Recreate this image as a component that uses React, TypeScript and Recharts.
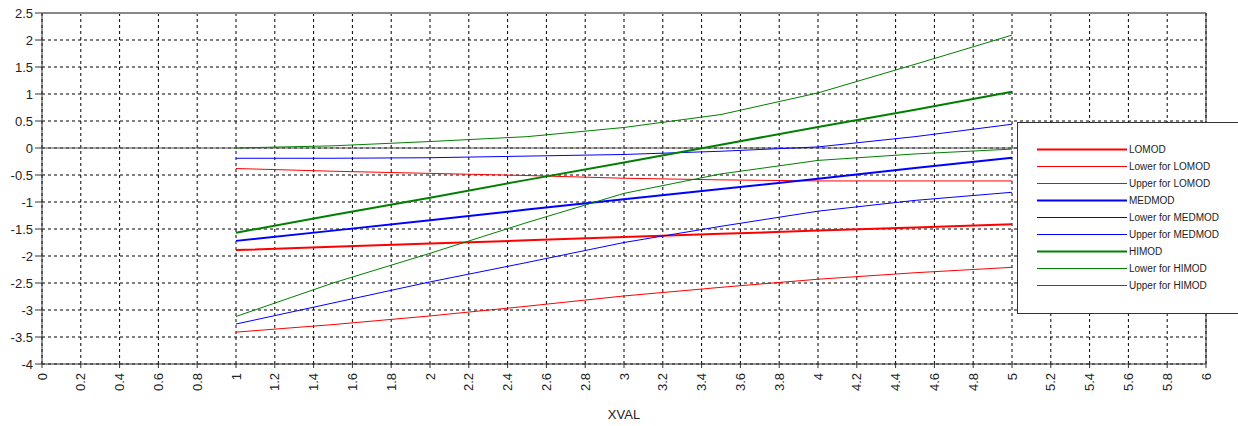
import React from 'react';
import { LineChart, Line, XAxis, YAxis, CartesianGrid, ReferenceLine, Legend } from 'recharts';

const FONT = '"Liberation Sans", Arial, sans-serif';

const xValues = [1, 1.5, 2, 2.5, 3, 3.5, 4, 4.5, 5];

const loMod = [-1.89, -1.83, -1.77, -1.71, -1.65, -1.59, -1.53, -1.47, -1.41];
const loLower = [-3.41, -3.27, -3.11, -2.93, -2.74, -2.58, -2.43, -2.31, -2.21];
const loUpper = [-0.38, -0.43, -0.47, -0.51, -0.56, -0.59, -0.61, -0.61, -0.61];

const medMod = [-1.72, -1.53, -1.34, -1.14, -0.95, -0.76, -0.57, -0.37, -0.18];
const medLower = [-3.26, -2.87, -2.48, -2.12, -1.75, -1.45, -1.17, -0.97, -0.82];
const medUpper = [-0.19, -0.19, -0.18, -0.15, -0.12, -0.06, 0.02, 0.21, 0.44];

const hiMod = [-1.57, -1.24, -0.92, -0.59, -0.27, 0.06, 0.39, 0.71, 1.04];
const hiLower = [-3.12, -2.5, -1.95, -1.38, -0.84, -0.48, -0.23, -0.11, -0.02];
const hiUpper = [0.0, 0.04, 0.12, 0.21, 0.38, 0.62, 1.02, 1.55, 2.09];

const xTicks = [0, 0.2, 0.4, 0.6, 0.8, 1, 1.2, 1.4, 1.6, 1.8, 2, 2.2, 2.4, 2.6, 2.8, 3, 3.2, 3.4, 3.6, 3.8, 4, 4.2, 4.4, 4.6, 4.8, 5, 5.2, 5.4, 5.6, 5.8, 6];
const yTicks = [-4, -3.5, -3, -2.5, -2, -1.5, -1, -0.5, 0, 0.5, 1, 1.5, 2, 2.5];

const series = [
  { key: 'LOMOD', values: loMod, color: '#ff0000', width: 2 },
  { key: 'Lower for LOMOD', values: loLower, color: '#ff0000', width: 1 },
  { key: 'Upper for LOMOD', values: loUpper, color: '#ff0000', width: 1 },
  { key: 'MEDMOD', values: medMod, color: '#0000ff', width: 2 },
  { key: 'Lower for MEDMOD', values: medLower, color: '#0000ff', width: 1 },
  { key: 'Upper for MEDMOD', values: medUpper, color: '#0000ff', width: 1 },
  { key: 'HIMOD', values: hiMod, color: '#008000', width: 2 },
  { key: 'Lower for HIMOD', values: hiLower, color: '#008000', width: 1 },
  { key: 'Upper for HIMOD', values: hiUpper, color: '#008000', width: 1 },
];

const data = xValues.map((x, i) => {
  const row: Record<string, number> = { x };
  series.forEach((s) => {
    row[s.key] = s.values[i];
  });
  return row;
});

const XTick = (props: any) => {
  const { x, y, payload } = props;
  return (
    <text
      transform={`translate(${x},${y + 3}) rotate(-90)`}
      textAnchor="end"
      dy="0.35em"
      fontSize={13}
      fill="#222"
      fontFamily={FONT}
    >
      {String(payload.value)}
    </text>
  );
};

// legend drawn as its own little svg so thin lines keep their colour
const LegendBox = () => (
  <svg width={230} height={192} style={{ display: 'block' }}>
    <rect x={0.5} y={0.5} width={240} height={191} fill="#fff" stroke="#333" />
    {series.map((s, i) => {
      const cy = 27.5 + i * 17;
      return (
        <g key={s.key}>
          <line x1={20} x2={110} y1={cy} y2={cy} stroke={s.color} strokeWidth={s.width} />
          <text x={112} y={cy} dy="0.35em" fontSize={10} fill="#222" fontFamily={FONT}>
            {s.key}
          </text>
        </g>
      );
    })}
  </svg>
);

export default function App() {
  return (
    <div style={{ position: 'absolute', left: 0, top: 0, width: 1238, height: 426, background: '#fff', overflow: 'hidden' }}>
      <LineChart width={1238} height={426} data={data} margin={{ top: 13, right: 32, bottom: 0, left: 0 }}>
        <CartesianGrid stroke="#000" strokeDasharray="3 3" />
        <XAxis
          dataKey="x"
          type="number"
          domain={[0, 6]}
          ticks={xTicks}
          interval={0}
          height={62}
          tickSize={4}
          tickMargin={2}
          stroke="#333"
          tick={<XTick />}
          label={{ value: 'XVAL', position: 'insideBottom', offset: 7, fontSize: 13, fill: '#222', fontFamily: FONT }}
        />
        <YAxis
          type="number"
          domain={[-4, 2.5]}
          ticks={yTicks}
          interval={0}
          width={42}
          tickSize={7}
          tickMargin={2}
          stroke="#333"
          tick={{ fontSize: 13, fill: '#222', fontFamily: FONT }}
        />
        <ReferenceLine y={2.5} stroke="#888" strokeWidth={2} />
        <ReferenceLine x={6} stroke="#222" />
        <ReferenceLine y={0} stroke="#555" />
        {series.map((s) => (
          <Line
            key={s.key}
            type="linear"
            dataKey={s.key}
            stroke={s.color}
            strokeWidth={s.width}
            dot={false}
            activeDot={false}
            isAnimationActive={false}
          />
        ))}
        <Legend
          layout="vertical"
          align="center"
          verticalAlign="middle"
          content={() => <LegendBox />}
          wrapperStyle={{ left: 1017, top: 122, width: 230, height: 192 }}
        />
      </LineChart>
    </div>
  );
}
